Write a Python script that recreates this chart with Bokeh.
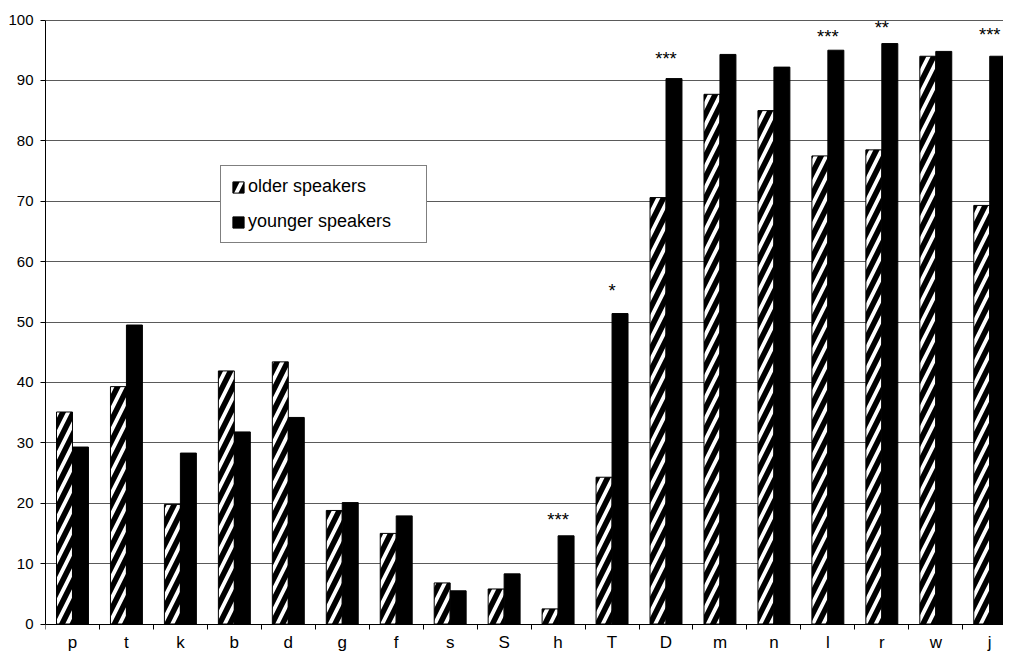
from bokeh.plotting import figure
from bokeh.models import (ColumnDataSource, Range1d, FixedTicker, Legend, LegendItem,
                          LinearAxis)
from bokeh.transform import dodge
from bokeh.core.properties import value
from bokeh.embed import file_html
from bokeh.resources import INLINE

# ---- data ----
categories = ["p", "t", "k", "b", "d", "g", "f", "s", "S", "h",
              "T", "D", "m", "n", "l", "r", "w", "j"]
older = [35.1, 39.3, 19.8, 41.9, 43.4, 18.8, 15.0, 6.8, 5.8, 2.5,
         24.3, 70.6, 87.7, 85.0, 77.5, 78.5, 94.0, 69.3]
younger = [29.3, 49.5, 28.3, 31.8, 34.2, 20.1, 17.9, 5.5, 8.3, 14.6,
           51.4, 90.3, 94.3, 92.2, 95.0, 96.1, 94.8, 94.0]
y_ticks = [0, 10, 20, 30, 40, 50, 60, 70, 80, 90, 100]
sig_categories = ["h", "T", "D", "l", "r", "j"]
sig_marks = ["***", "*", "***", "***", "**", "***"]
sig_heights = [17.35, 55.15, 93.7, 97.35, 98.7, 97.6]
series_names = ["older speakers", "younger speakers"]

FONT = "Liberation Sans"

centers = [i + 0.5 for i in range(len(categories))]
boundaries = list(range(len(categories) + 1))

src = ColumnDataSource(dict(x=centers, older=older, younger=younger))
sig_src = ColumnDataSource(dict(
    x=[categories.index(c) + 0.5 for c in sig_categories],
    y=sig_heights, text=sig_marks))

p = figure(width=1003, height=656, output_backend="svg", toolbar_location=None,
           x_axis_type=None, title=None,
           x_range=Range1d(0, 17.755), y_range=Range1d(-5.38, 103.23),
           min_border_left=45, min_border_right=0, min_border_top=0, min_border_bottom=0)
p.outline_line_color = None
p.background_fill_color = "white"
p.border_fill_color = "white"

bw = 0.296
r_old = p.vbar(x=dodge("x", -bw / 2, range=p.x_range), top="older", width=bw, bottom=0,
               source=src, fill_color="white", line_color="black", line_width=1,
               hatch_pattern="/", hatch_color="black", hatch_weight=5.5, hatch_scale=21)
r_young = p.vbar(x=dodge("x", bw / 2, range=p.x_range), top="younger", width=bw, bottom=0,
                 source=src, fill_color="black", line_color="black", line_width=1)

p.text(x="x", y="y", text="text", source=sig_src, text_align="center",
       text_baseline="alphabetic", text_font=value(FONT), text_font_size="18.5px",
       text_color="black")

# y axis / grid
yax = p.yaxis[0]
yax.ticker = FixedTicker(ticks=y_ticks)
yax.bounds = (0, 100)
yax.major_tick_out = 5
yax.major_tick_in = 0
yax.minor_tick_line_color = None
yax.axis_line_color = "black"
yax.major_tick_line_color = "black"
yax.major_label_standoff = 7
yax.major_label_text_font = FONT
yax.major_label_text_font_size = "15px"
yax.major_label_text_color = "black"
p.ygrid.ticker = FixedTicker(ticks=y_ticks)
p.ygrid.grid_line_color = "#5a5a5a"
p.ygrid.grid_line_width = 1

# x axis at value 0
xax = LinearAxis(fixed_location=0,
                 ticker=FixedTicker(ticks=centers, minor_ticks=boundaries),
                 major_label_overrides={c: lab for c, lab in zip(centers, categories)},
                 major_tick_in=0, major_tick_out=0, major_tick_line_color=None,
                 minor_tick_in=0, minor_tick_out=5, minor_tick_line_color="black",
                 axis_line_color="black", major_label_standoff=4,
                 major_label_text_font=FONT, major_label_text_font_size="17px",
                 major_label_text_color="black")
p.add_layout(xax, "below")

legend = Legend(items=[LegendItem(label=series_names[0], renderers=[r_old]),
                       LegendItem(label=series_names[1], renderers=[r_young])],
                location=(175, 413), orientation="vertical", padding=10, margin=0,
                spacing=14, glyph_width=14, glyph_height=14, label_standoff=3,
                label_width=168, label_text_font=FONT, label_text_font_size="18px",
                label_text_color="black",
                border_line_color="black", border_line_width=1,
                background_fill_color="white", background_fill_alpha=1.0)
p.add_layout(legend)

open("out.html", "w").write(file_html(p, INLINE))
